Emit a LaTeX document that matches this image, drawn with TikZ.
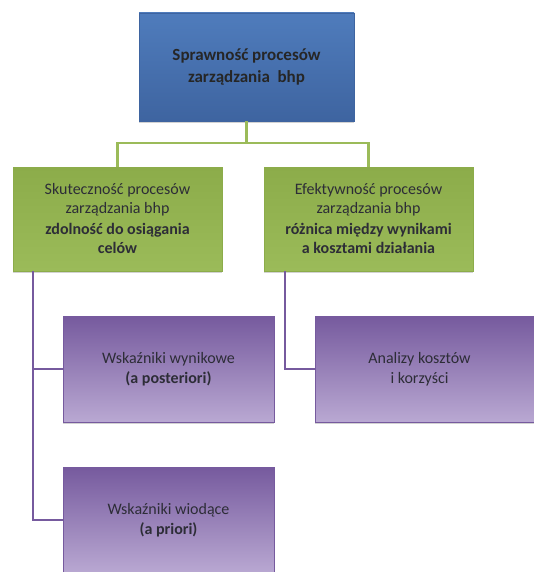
\documentclass[tikz,border=0pt]{standalone}
\usepackage{fontspec}
\setmainfont{Carlito}
\usepackage{tikz}
\usetikzlibrary{calc,positioning,shadows}
\definecolor{bhpblue}{RGB}{79,124,188}
\definecolor{bhpbluedark}{RGB}{62,100,160}
\definecolor{bhpgreen}{RGB}{155,187,89}
\definecolor{bhpgreendark}{RGB}{140,172,74}
\definecolor{bhpviolet}{RGB}{118,90,158}
\definecolor{bhpvioletlight}{RGB}{185,168,210}
\definecolor{bhptext}{RGB}{45,45,55}

\begin{document}
\begin{tikzpicture}[x=1pt,y=-1pt,
    box/.style={rectangle,minimum width=#1,align=center,text=bhptext,font=\fontsize{16}{19}\selectfont,
      drop shadow={shadow xshift=0pt,shadow yshift=-2pt,opacity=0.35}},
    topbox/.style={box=215pt,minimum height=108pt,top color=bhpblue,bottom color=bhpbluedark,draw=bhpbluedark,
      font=\fontsize{17}{22}\selectfont\bfseries,text=black!85},
    greenbox/.style={box=209pt,minimum height=104pt,top color=bhpgreendark,bottom color=bhpgreen,draw=bhpgreendark},
    violetbox/.style={box=211pt,minimum height=106pt,top color=bhpviolet,bottom color=bhpvioletlight,draw=bhpviolet,
      font=\fontsize{16}{20}\selectfont},
    greenline/.style={draw=bhpgreen,line width=2.2pt},
    violetline/.style={draw=bhpviolet,line width=2.2pt}]
  \useasboundingbox[fill=white] (0,0) rectangle (533,572);
  % boxes
  \node[topbox] (spraw) at (246.5,67) {Sprawność\ procesów\\zarządzania\ \ bhp};
  \node[greenbox] (skut) at (117.5,219) {Skuteczność procesów\\zarządzania bhp\\[2pt]\textbf{zdolność\ do osiągania}\\\textbf{celów}};
  \node[greenbox] (efek) at (368.5,219) {Efektywność procesów\\zarządzania bhp\\[2pt]\textbf{różnica\ między wynikami}\\\textbf{a kosztami działania}};
  \node[violetbox] (wynik) at (168.5,369) {Wskaźniki wynikowe\\\textbf{(a posteriori)}};
  \node[violetbox] (wiod) at (168.5,520) {Wskaźniki wiodące\\\textbf{(a priori)}};
  \node[violetbox,minimum width=225pt] (koszt) at (427.5,369) {\hspace*{-16pt}Analizy kosztów\\\hspace*{-16pt}i korzyści};
  % connectors
  \coordinate (split) at (243,143);
  \draw[greenline] (spraw.south) -- (spraw.south |- split);
  \draw[greenline] (skut.north) |- (split) -| (efek.north);
  \coordinate (lrail) at ([xshift=20pt]skut.south west);
  \coordinate (rrail) at ([xshift=21pt]efek.south west);
  \draw[violetline] (lrail) |- (wiod.west);
  \draw[violetline] (lrail |- wynik.west) -- (wynik.west);
  \draw[violetline] (rrail) |- (koszt.west);
\end{tikzpicture}
\end{document}
